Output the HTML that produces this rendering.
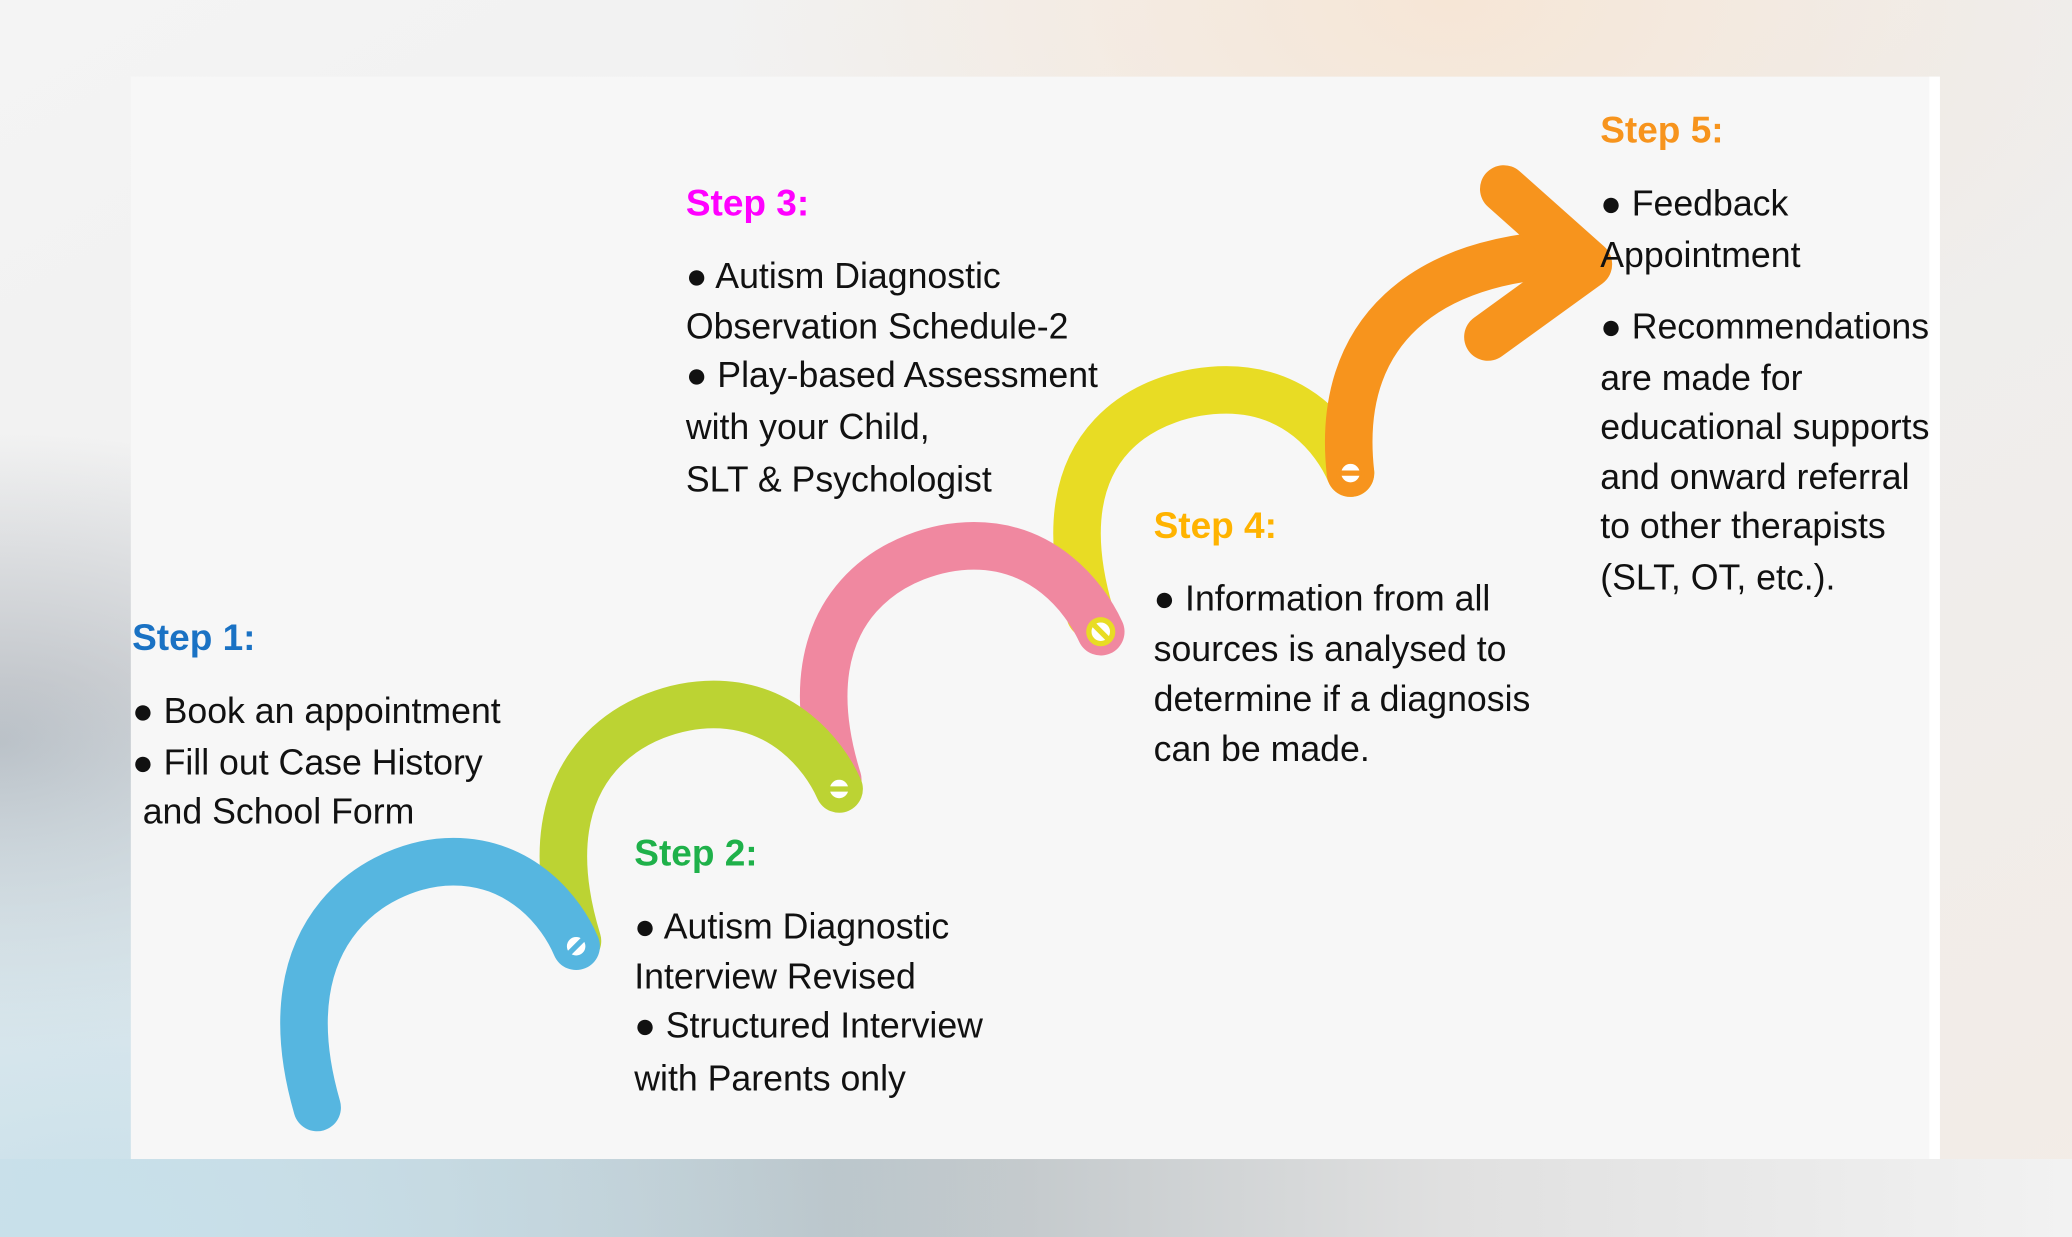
<!DOCTYPE html>
<html><head><meta charset="utf-8">
<style>
html,body{margin:0;padding:0;width:2072px;height:1237px;overflow:hidden;}
svg{display:block;}
text{font-family:"Liberation Sans","DejaVu Sans",sans-serif;font-size:27px;fill:#111;}
.h{font-weight:bold;font-size:28px;}
</style></head><body>
<svg width="2072" height="1237" viewBox="0 0 1568 936" preserveAspectRatio="none" xmlns="http://www.w3.org/2000/svg">
<defs>
<linearGradient id="bg" x1="0" y1="0" x2="1" y2="1">
<stop offset="0" stop-color="#f4f4f4"/><stop offset="0.5" stop-color="#eeeeee"/><stop offset="1" stop-color="#f3ece6"/>
</linearGradient>
<radialGradient id="lg" cx="0" cy="0.6" r="0.25"><stop offset="0" stop-color="#b9bec4"/><stop offset="1" stop-color="#b9bec4" stop-opacity="0"/></radialGradient>
<radialGradient id="bl" cx="0.05" cy="1" r="0.45"><stop offset="0" stop-color="#c8e0ea"/><stop offset="1" stop-color="#c8e0ea" stop-opacity="0"/></radialGradient>
<radialGradient id="tr" cx="0.7" cy="0" r="0.35"><stop offset="0" stop-color="#f6e6d6"/><stop offset="1" stop-color="#f6e6d6" stop-opacity="0"/></radialGradient>
<linearGradient id="bot" x1="0" y1="0" x2="1" y2="0"><stop offset="0" stop-color="#cde0e8"/><stop offset="0.4" stop-color="#b8c0c4"/><stop offset="0.7" stop-color="#e0e0e0"/><stop offset="1" stop-color="#f2f2f2"/></linearGradient>
</defs>
<rect width="1568" height="936" fill="url(#bg)"/>
<rect y="877" width="1568" height="59" fill="url(#bot)"/>
<rect width="1568" height="936" fill="url(#lg)"/>
<rect width="1568" height="936" fill="url(#bl)"/>
<rect width="1568" height="936" fill="url(#tr)"/>
<rect x="99" y="58" width="1369" height="819" fill="#f7f7f7"/>
<rect x="1460" y="58" width="8" height="819" fill="#ffffff"/>

<g fill="none" stroke-width="36" stroke-linecap="round" stroke-linejoin="round">
<!-- yellow -->
<path d="M825 465 C785 330 875 295 928 295 C980 295 1010 330 1022 358" stroke="#e8dc24"/>
<!-- pink -->
<path d="M634 590 C592 455 684 413 737 413 C789 413 820 450 833 478" stroke="#f088a0"/>
<!-- lime -->
<path d="M437 712 C395 575 487 533 540 533 C592 533 623 570 635 597" stroke="#bcd333"/>
<!-- blue -->
<path d="M240 838 C200 700 290 652 343 652 C395 652 425 690 436 716" stroke="#56b6e0"/>
<!-- orange -->
<path d="M1022 358 C1010 250 1080 195 1190 192" stroke="#f7941d"/>
<path d="M1138 143 L1202 200 L1126 255" stroke="#f7941d"/>
</g>
<g stroke-width="4">
<circle cx="436" cy="716" r="9" fill="#fff" stroke="#56b6e0"/><line x1="430" y1="722" x2="442" y2="710" stroke="#56b6e0"/>
<circle cx="635" cy="597" r="9" fill="#fff" stroke="#bcd333"/><line x1="627" y1="597" x2="643" y2="597" stroke="#bcd333"/>
<circle cx="833" cy="478" r="9" fill="#fff" stroke="#e8dc24"/><line x1="827" y1="472" x2="839" y2="484" stroke="#e8dc24"/>
<circle cx="1022" cy="358" r="9" fill="#fff" stroke="#f7941d"/><line x1="1014" y1="358" x2="1030" y2="358" stroke="#f7941d"/>
</g>

<text class="h" x="100" y="492" style="fill:#1a72c4">Step 1:</text>
<text x="100" y="547">● Book an appointment</text>
<text x="100" y="586">● Fill out Case History</text>
<text x="108" y="623">and School Form</text>

<text class="h" x="480" y="655" style="fill:#1fb14a">Step 2:</text>
<text x="480" y="710">● Autism Diagnostic</text>
<text x="480" y="748">Interview Revised</text>
<text x="480" y="785">● Structured Interview</text>
<text x="480" y="825">with Parents only</text>

<text class="h" x="519" y="163" style="fill:#ff00ff">Step 3:</text>
<text x="519" y="218">● Autism Diagnostic</text>
<text x="519" y="256">Observation Schedule-2</text>
<text x="519" y="293">● Play-based Assessment</text>
<text x="519" y="332">with your Child,</text>
<text x="519" y="372">SLT &amp; Psychologist</text>

<text class="h" x="873" y="407" style="fill:#ffb300">Step 4:</text>
<text x="873" y="462">● Information from all</text>
<text x="873" y="500">sources is analysed to</text>
<text x="873" y="538">determine if a diagnosis</text>
<text x="873" y="576">can be made.</text>

<text class="h" x="1211" y="108" style="fill:#f7941d">Step 5:</text>
<text x="1211" y="163">● Feedback</text>
<text x="1211" y="202">Appointment</text>
<text x="1211" y="256">● Recommendations</text>
<text x="1211" y="295">are made for</text>
<text x="1211" y="332">educational supports</text>
<text x="1211" y="370">and onward referral</text>
<text x="1211" y="407">to other therapists</text>
<text x="1211" y="446">(SLT, OT, etc.).</text>
</svg>
</body></html>
